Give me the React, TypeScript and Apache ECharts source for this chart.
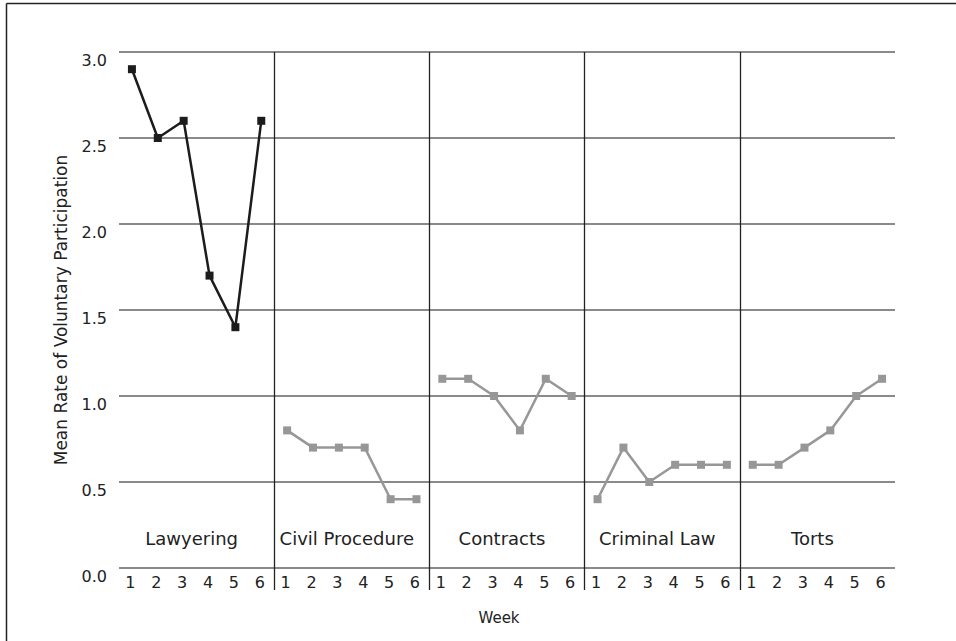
import React, { useEffect, useRef } from "react";
import * as echarts from "echarts";

const weeks = ["1", "2", "3", "4", "5", "6"];
const courses = ["Lawyering", "Civil Procedure", "Contracts", "Criminal Law", "Torts"];
const lawyering = [2.9, 2.5, 2.6, 1.7, 1.4, 2.6];
const civilProcedure = [0.8, 0.7, 0.7, 0.7, 0.4, 0.4];
const contracts = [1.1, 1.1, 1.0, 0.8, 1.1, 1.0];
const criminalLaw = [0.4, 0.7, 0.5, 0.6, 0.6, 0.6];
const torts = [0.6, 0.6, 0.7, 0.8, 1.0, 1.1];
const yTicks = [0, 0.5, 1.0, 1.5, 2.0, 2.5, 3.0];

const FONT = "DejaVu Sans";

export default function App() {
  const ref = useRef<HTMLDivElement>(null);
  useEffect(() => {
    if (!ref.current) return;
    const chart = echarts.init(ref.current, undefined, { renderer: "svg" });
    const allSeries = [lawyering, civilProcedure, contracts, criminalLaw, torts];
    const total = courses.length * weeks.length;
    const categories: string[] = [];
    courses.forEach(() => weeks.forEach((w) => categories.push(w)));
    const series = allSeries.map((vals, ci) => {
      const data: (number | null)[] = new Array(total).fill(null);
      vals.forEach((v, wi) => {
        data[ci * weeks.length + wi] = v;
      });
      const color = ci === 0 ? "#1c1c1c" : "#979797";
      return {
        name: courses[ci],
        type: "line",
        xAxisIndex: 0,
        yAxisIndex: 0,
        data,
        connectNulls: false,
        symbol: "rect",
        symbolSize: 8,
        itemStyle: { color },
        lineStyle: { color, width: 2.5 },
        z: 5,
      };
    });
    chart.setOption({
      animation: false,
      textStyle: { fontFamily: FONT },
      grid: [
        { left: 119, right: 61, top: 52, bottom: 73 },
        { left: 119, right: 61, top: 52, bottom: 51 },
      ],
      xAxis: [
        {
          type: "category",
          gridIndex: 0,
          data: categories,
          boundaryGap: true,
          axisLine: { show: false },
          axisTick: { show: false },
          axisLabel: {
            interval: 0,
            fontSize: 16,
            color: "#222",
            margin: 6,
            fontFamily: FONT,
            padding: [0, 3, 0, 0],
          },
          name: "Week",
          nameLocation: "middle",
          nameGap: 42,
          nameTextStyle: { fontSize: 15, color: "#222", fontFamily: FONT, padding: [0, 16, 0, 0] },
        },
        {
          type: "category",
          gridIndex: 0,
          position: "bottom",
          data: courses,
          boundaryGap: true,
          axisLine: { show: false },
          axisTick: { show: false },
          splitLine: { show: false },
          axisLabel: {
            inside: true,
            interval: 0,
            margin: 21,
            fontSize: 18,
            color: "#222",
            fontFamily: FONT,
            padding: [0, 10, 0, 0],
          },
        },
        {
          type: "value",
          gridIndex: 1,
          min: 0,
          max: total,
          interval: weeks.length,
          axisLine: { show: false },
          axisTick: { show: false },
          axisLabel: { show: false },
          splitLine: {
            show: true,
            lineStyle: {
              color: ["transparent", "#222", "#222", "#222", "#222", "transparent"],
              width: 1.3,
            },
          },
        },
      ],
      yAxis: [
        {
          type: "value",
          gridIndex: 0,
          min: yTicks[0],
          max: yTicks[yTicks.length - 1],
          interval: 0.5,
          axisLine: { show: false },
          axisTick: { show: false },
          axisLabel: {
            formatter: (v: number) => v.toFixed(1),
            fontSize: 16,
            color: "#222",
            margin: 12,
            verticalAlign: "top",
            fontFamily: FONT,
          },
          splitLine: { show: true, lineStyle: { color: "#8a8a8a", width: 2 } },
          name: "Mean Rate of Voluntary Participation",
          nameLocation: "middle",
          nameGap: 50,
          nameTextStyle: { fontSize: 17, color: "#222", fontFamily: FONT },
        },
        {
          type: "value",
          gridIndex: 1,
          show: false,
          splitLine: { show: false },
        },
      ],
      graphic: [
        {
          type: "line",
          shape: { x1: 6.5, y1: 3.5, x2: 6.5, y2: 641 },
          style: { stroke: "#222", lineWidth: 1.5 },
        },
        {
          type: "line",
          shape: { x1: 6.5, y1: 3.5, x2: 956, y2: 3.5 },
          style: { stroke: "#222", lineWidth: 1.5 },
        },
      ],
      series,
    });
    return () => chart.dispose();
  }, []);
  return (
    <div
      ref={ref}
      style={{ position: "fixed", left: 0, top: 0, width: 956, height: 641, background: "#fff" }}
    />
  );
}
